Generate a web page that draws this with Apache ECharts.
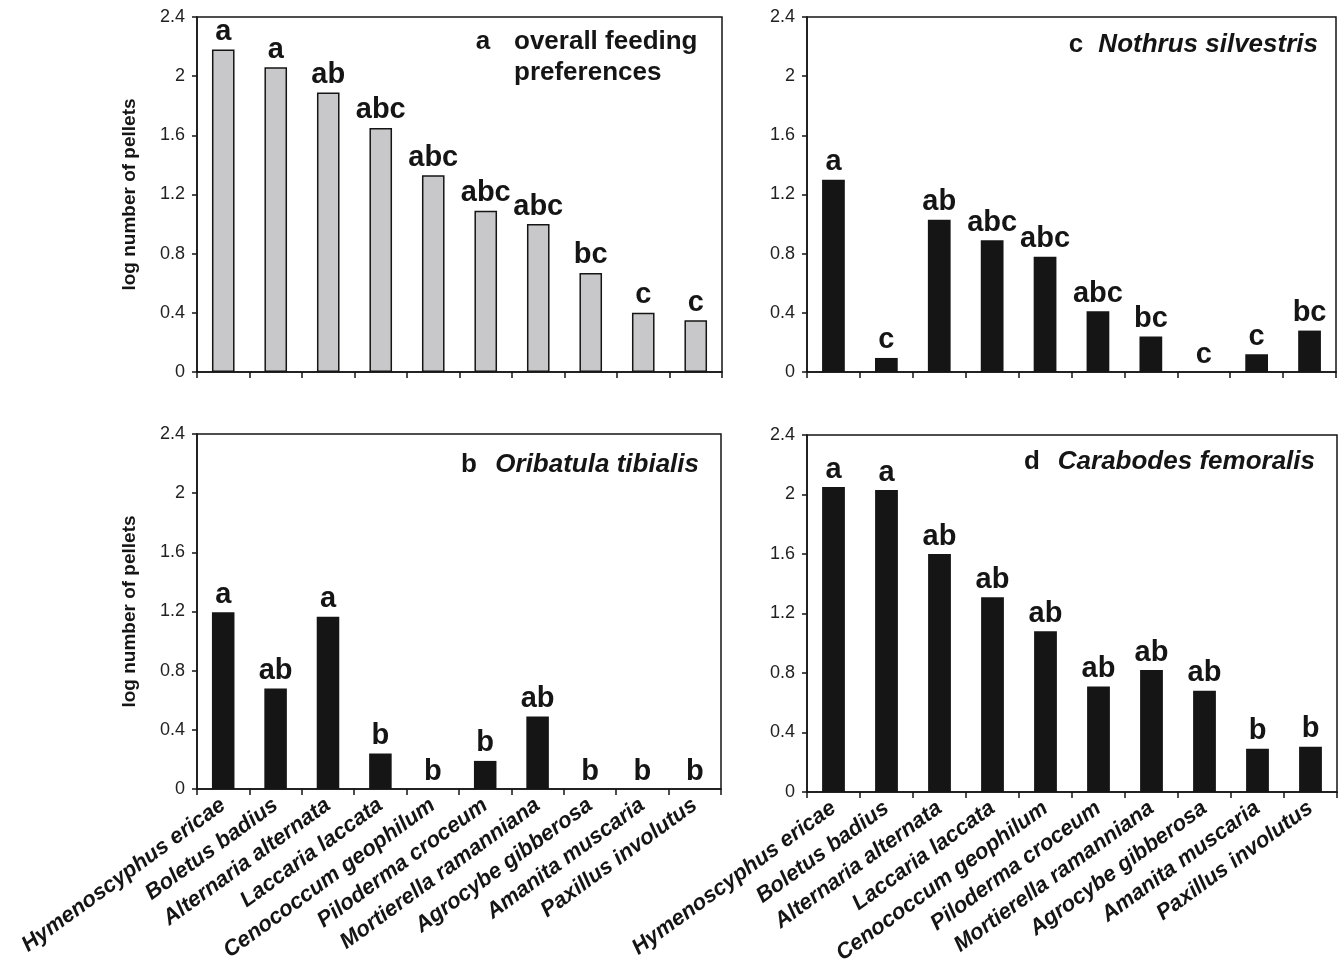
<!DOCTYPE html>
<html>
<head>
<meta charset="utf-8">
<script src="https://cdn.jsdelivr.net/npm/echarts@6/dist/echarts.min.js"></script>
<style>
html,body{margin:0;padding:0;background:#fff;}
#chart{width:1341px;height:972px;}
</style>
</head>
<body>
<div id="chart"></div>
<script>
// ---- data ----
var categories = ['Hymenoscyphus ericae','Boletus badius','Alternaria alternata','Laccaria laccata','Cenococcum geophilum','Piloderma croceum','Mortierella ramanniana','Agrocybe gibberosa','Amanita muscaria','Paxillus involutus'];
var overallValues = [2.18, 2.06, 1.89, 1.65, 1.33, 1.09, 1.00, 0.67, 0.40, 0.35];
var overallLetters = ['a','a','ab','abc','abc','abc','abc','bc','c','c'];
var nothrusValues = [1.30, 0.095, 1.03, 0.89, 0.78, 0.41, 0.24, 0, 0.12, 0.28];
var nothrusLetters = ['a','c','ab','abc','abc','abc','bc','c','c','bc'];
var oribatulaValues = [1.195, 0.68, 1.165, 0.24, 0, 0.19, 0.49, 0, 0, 0];
var oribatulaLetters = ['a','ab','a','b','b','b','ab','b','b','b'];
var carabodesValues = [2.05, 2.03, 1.60, 1.31, 1.08, 0.71, 0.82, 0.68, 0.29, 0.305];
var carabodesLetters = ['a','a','ab','ab','ab','ab','ab','ab','b','b'];
var yMin = 0, yMax = 2.4, yStep = 0.4;
var yAxisTitle = 'log number of pellets';

var FONT = '"Liberation Sans", Arial, sans-serif';
var INK = '#151515';

var grids = [
  {left:197, top:17, width:525, height:355},
  {left:807, top:17, width:529, height:355},
  {left:197, top:434, width:524, height:355},
  {left:807, top:435, width:530, height:357}
];
grids.forEach(function(g){ g.show = true; g.borderColor = INK; g.borderWidth = 1.5; g.backgroundColor = 'transparent'; });

function xAxis(i, showLabels){
  return {
    type:'category', gridIndex:i, data:categories, boundaryGap:true,
    axisLine:{lineStyle:{color:INK, width:1.5}},
    axisTick:{show:true, inside:false, length:6, lineStyle:{color:INK, width:1.5}, alignWithLabel:false, interval:0},
    axisLabel:{show:showLabels, interval:0, rotate:36, margin:14, fontFamily:FONT, fontSize:22, fontWeight:'bold', fontStyle:'italic', color:INK},
    splitLine:{show:false}
  };
}
function yAxis(i, showName){
  return {
    type:'value', gridIndex:i, min:yMin, max:yMax, interval:yStep,
    name: showName ? yAxisTitle : '', nameLocation:'middle', nameGap:58,
    nameTextStyle:{fontFamily:FONT, fontSize:19, fontWeight:'bold', color:INK},
    axisLine:{show:true, lineStyle:{color:INK, width:1.5}},
    axisTick:{show:true, length:5, lineStyle:{color:INK, width:1.5}},
    axisLabel:{margin:12, fontFamily:FONT, fontSize:18, color:'#222'},
    splitLine:{show:false}
  };
}
function bars(i, values, letters, fill, border){
  return {
    type:'bar', xAxisIndex:i, yAxisIndex:i, data:values, barWidth:'43%',
    itemStyle:{color:fill, borderColor:border, borderWidth: border ? 1.5 : 0},
    label:{show:true, position:'top', distance:3, fontFamily:FONT, fontSize:29, fontWeight:'bold', color:INK,
      formatter:function(p){ return letters[p.dataIndex]; }},
    silent:true, animation:false
  };
}

function titleText(x, y, text, align, italic){
  return {type:'text', x:x, y:y, silent:true,
    style:{text:text, fill:INK, font:(italic?'italic ':'')+'bold 26px '+FONT, align:align, verticalAlign:'middle', lineHeight:30}};
}

var option = {
  animation:false,
  backgroundColor:'#fff',
  grid:grids,
  xAxis:[xAxis(0,false), xAxis(1,false), xAxis(2,true), xAxis(3,true)],
  yAxis:[yAxis(0,true), yAxis(1,false), yAxis(2,true), yAxis(3,false)],
  series:[
    bars(0, overallValues, overallLetters, '#c8c8ca', INK),
    bars(1, nothrusValues, nothrusLetters, INK, null),
    bars(2, oribatulaValues, oribatulaLetters, INK, null),
    bars(3, carabodesValues, carabodesLetters, INK, null)
  ],
  graphic:[
    titleText(483, 42, 'a', 'center', false),
    {type:'text', x:514, y:57, silent:true, style:{text:'overall feeding\npreferences', fill:INK, font:'bold 26px '+FONT, align:'left', verticalAlign:'middle', lineHeight:31}},
    titleText(1076, 45, 'c', 'center', false),
    titleText(1318, 45, 'Nothrus silvestris', 'right', true),
    titleText(469, 465, 'b', 'center', false),
    titleText(699, 465, 'Oribatula tibialis', 'right', true),
    titleText(1032, 462, 'd', 'center', false),
    titleText(1315, 462, 'Carabodes femoralis', 'right', true)
  ]
};
var chart = echarts.init(document.getElementById('chart'), null, {renderer:'canvas'});
chart.setOption(option);
</script>
</body>
</html>
